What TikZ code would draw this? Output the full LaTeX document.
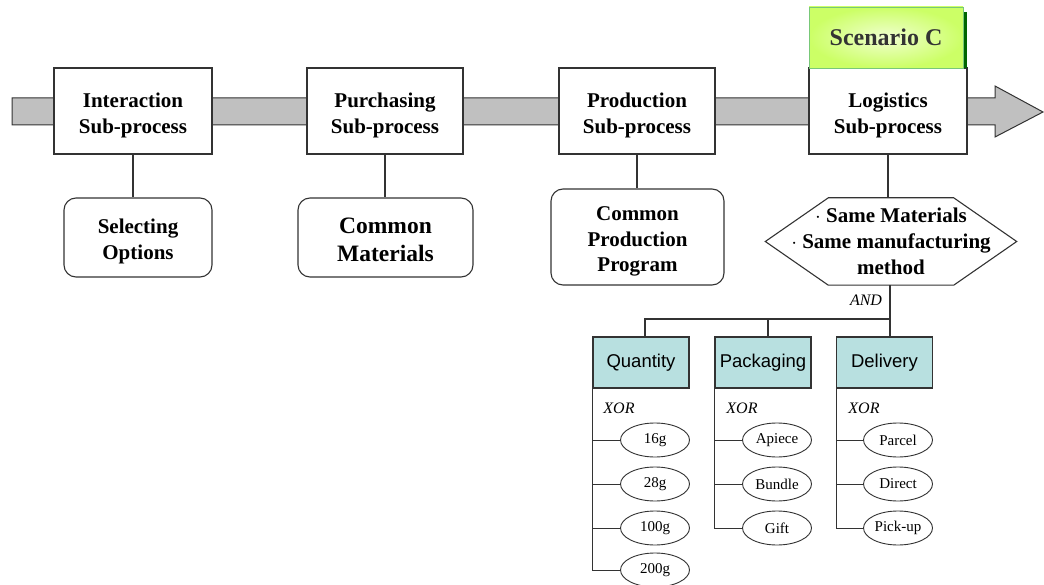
\documentclass[tikz,border=0pt]{standalone}
\usepackage{fontspec}
\setmainfont{Liberation Serif}
\newfontfamily\sansf{Liberation Sans}
\usetikzlibrary{shapes.geometric}
\definecolor{ln}{HTML}{333333}
\definecolor{band}{HTML}{C0C0C0}
\definecolor{teal}{HTML}{B8E0E0}
\definecolor{lime}{HTML}{CCFF66}
\definecolor{limein}{HTML}{F0FFD0}
\definecolor{dgreen}{HTML}{006600}
\newcommand\tstrut[1]{\rule{0pt}{#1}}
\tikzset{
  x=1pt, y=-1pt,
  proc/.style={draw=ln, line width=1.3pt, fill=white, minimum width=158pt, minimum height=86pt,
    align=center, font=\fontsize{21}{26}\selectfont\bfseries, inner sep=0pt},
  rbox/.style={draw=ln, line width=1.1pt, fill=white, rounded corners=12pt, align=center,
    font=\fontsize{21}{26}\selectfont\bfseries, inner sep=0pt},
  feat/.style={draw=ln, line width=1.1pt, fill=teal, minimum width=96pt, minimum height=51pt,
    font=\sansf\fontsize{18.5}{20}\selectfont, inner sep=0pt},
  opt/.style={ellipse, draw=ln, line width=0.9pt, fill=white, minimum width=69pt, minimum height=34pt,
    font=\fontsize{15}{16}\selectfont, inner sep=0pt},
  lbl/.style={font=\itshape\fontsize{16}{17}\selectfont, inner sep=0pt},
  conn/.style={draw=ln, line width=1.1pt},
}
\begin{document}
\begin{tikzpicture}
\useasboundingbox (0,0) rectangle (1044,585);
% process band arrow
\draw[fill=band, draw=ln, line width=1pt] (12,98) -- (995,98) -- (995,86) -- (1043,112) -- (995,137) -- (995,125) -- (12,125) -- cycle;

% sub-processes
\node[proc] (int) at (133,111) {\tstrut{23pt}Interaction\\Sub-process};
\node[proc, minimum width=156pt] (pur) at (385,111) {\tstrut{23pt}Purchasing\\Sub-process};
\node[proc, minimum width=156pt] (pro) at (637,111) {\tstrut{23pt}Production\\Sub-process};
\node[proc] (log) at (888,111) {\tstrut{23pt}Logistics\\Sub-process};

% scenario C tag
\fill[dgreen] (959,12) rectangle (967,68);
\node[minimum width=154pt, minimum height=61pt, inner sep=0pt, draw={rgb,255:red,120;green,200;blue,120}, line width=0.8pt,
  inner color=limein, outer color=lime, font=\fontsize{24}{26}\selectfont\bfseries, text=ln] (scen) at (886,37.5) {Scenario C};

% sub-process details
\node[rbox, minimum width=148pt, minimum height=79pt] (sel) at (138,237.5) {\tstrut{22pt}Selecting\\Options};
\node[rbox, minimum width=175pt, minimum height=79pt, font=\fontsize{23.5}{28}\selectfont\bfseries] (com) at (385.5,237.5) {\tstrut{21pt}Common\\Materials};
\node[rbox, minimum width=173pt, minimum height=96pt, font=\fontsize{21}{25.5}\selectfont\bfseries] (cpp) at (637.5,237) {\tstrut{23pt}Common\\Production\\Program};
\node[minimum width=251pt, minimum height=87pt, inner sep=0pt, align=center,
  font=\fontsize{21}{26}\selectfont\bfseries] (hex) at (891,241.5) {$\cdot$ Same Materials\\$\cdot$ Same manufacturing\\method};
\draw[draw=ln, line width=1.1pt] (hex.west) -- ([xshift=63]hex.north west) -- ([xshift=-63]hex.north east)
  -- (hex.east) -- ([xshift=-63]hex.south east) -- ([xshift=63]hex.south west) -- cycle;

\draw[conn] (int.south) -- (int.south |- sel.north);
\draw[conn] (pur.south) -- (pur.south |- com.north);
\draw[conn] (pro.south) -- (pro.south |- cpp.north);
\draw[conn] (log.south) -- (log.south |- hex.north);

% AND decomposition
\node[lbl] (and) at (866,300) {AND};
\coordinate (j) at (890,319);
\node[feat] (qty) at (641,362.5) {Quantity};
\node[feat] (pkg) at (763,362.5) {Packaging};
\node[feat] (dlv) at (884.5,362.5) {Delivery};
\draw[conn] (j |- hex.south) -- (j);
\draw[conn] (j) -| ([xshift=4]qty.north);
\draw[conn] (j) -| ([xshift=5]pkg.north);
\draw[conn] (j) -- ([xshift=5.5]dlv.north);

% XOR labels
\node[lbl] (x1) at (619,408) {XOR};
\node[lbl] (x2) at (742,408) {XOR};
\node[lbl] (x3) at (864,408) {XOR};

% options
\node[opt] (q1) at (655,440) {16g};
\node[opt] (q2) at (655,484) {28g};
\node[opt] (q3) at (655,528) {100g};
\node[opt] (q4) at (655,570) {200g};
\node[opt] (p1) at (777,440) {Apiece};
\node[opt] (p2) at (777,484) {Bundle};
\node[opt] (p3) at (777,528) {Gift};
\node[opt] (d1) at (898,440) {Parcel};
\node[opt] (d2) at (898,484) {Direct};
\node[opt] (d3) at (898,528) {Pick-up};

\draw[conn, line width=0.9pt] (qty.south west) |- (q4.west);
\draw[conn, line width=0.9pt] (qty.south west |- q1.west) -- (q1.west);
\draw[conn, line width=0.9pt] (qty.south west |- q2.west) -- (q2.west);
\draw[conn, line width=0.9pt] (qty.south west |- q3.west) -- (q3.west);
\draw[conn, line width=0.9pt] (pkg.south west) |- (p3.west);
\draw[conn, line width=0.9pt] (pkg.south west |- p1.west) -- (p1.west);
\draw[conn, line width=0.9pt] (pkg.south west |- p2.west) -- (p2.west);
\draw[conn, line width=0.9pt] (dlv.south west) |- (d3.west);
\draw[conn, line width=0.9pt] (dlv.south west |- d1.west) -- (d1.west);
\draw[conn, line width=0.9pt] (dlv.south west |- d2.west) -- (d2.west);
\end{tikzpicture}
\end{document}
